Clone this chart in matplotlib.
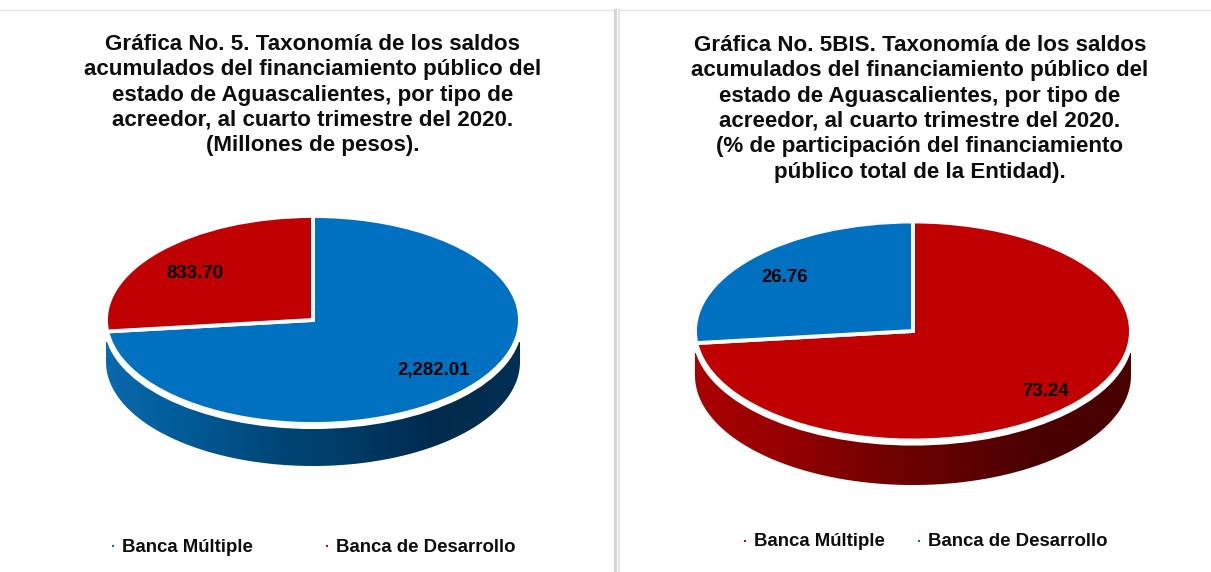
import numpy as np
import matplotlib
matplotlib.use('Agg')
import matplotlib.pyplot as plt
from matplotlib.colors import LinearSegmentedColormap
from matplotlib.lines import Line2D
from matplotlib.patches import Ellipse, Polygon

W, H = 1211, 572

categories = ['Banca Múltiple', 'Banca de Desarrollo']
saldos = [2282.01, 833.70]
participacion = [73.24, 26.76]

titulo_1 = ('Gráfica No. 5. Taxonomía de los saldos\n'
            'acumulados del financiamiento público del\n'
            'estado de Aguascalientes, por tipo de\n'
            'acreedor, al cuarto trimestre del 2020.\n'
            '(Millones de pesos).')
titulo_2 = ('Gráfica No. 5BIS. Taxonomía de los saldos\n'
            'acumulados del financiamiento público del\n'
            'estado de Aguascalientes, por tipo de\n'
            'acreedor, al cuarto trimestre del 2020.\n'
            '(% de participación del financiamiento\n'
            'público total de la Entidad).')

AZUL = '#0070C0'
ROJO = '#C00000'
grad_azul = ['#0A69AC', '#005A96', '#004778', '#003A65', '#002A4C', '#002F52']
grad_rojo = ['#A80000', '#960000', '#760000', '#600000', '#480000', '#480000']

plt.rcParams['font.family'] = ['Liberation Sans', 'DejaVu Sans']
plt.rcParams['font.weight'] = 'bold'

fig = plt.figure(figsize=(W / 100, H / 100), dpi=100, facecolor='white')


def fx(x):
    return x / W


def fy(y):
    return 1 - y / H


def pastel(cx, cy, rx, ry, fondo, valores, colores, grad):
    # axes covers the ellipse plus room for the side wall, units = pie radius
    margen = 0.02
    prof = (fondo - cy) / ry - 1
    ax = fig.add_axes([fx(cx - rx * (1 + margen)), fy(cy + ry * (1 + prof + margen)),
                       2 * rx * (1 + margen) / W, ry * (2 + prof + 2 * margen) / H])
    # side wall with horizontal gradient
    t = np.linspace(np.pi, 2 * np.pi, 200)
    borde = np.column_stack([np.cos(t), np.sin(t) - prof])
    tope = -22 / ry
    pts = np.vstack([[-1, tope], borde, [1, tope]])
    cmap = LinearSegmentedColormap.from_list('g', grad)
    img = ax.imshow(np.linspace(0, 1, 300).reshape(1, -1), cmap=cmap, aspect='auto',
                    extent=(-1, 1, -1 - prof, 0), zorder=1)
    clip = Polygon(pts, transform=ax.transData, facecolor='none', edgecolor='none')
    ax.add_patch(clip)
    img.set_clip_path(clip)
    # white rim
    ax.add_patch(Ellipse((0, -4 / ry), 2.02, 2.02, facecolor='white', edgecolor='none', zorder=2))
    ax.pie(valores, colors=colores, startangle=90, counterclock=False, radius=1,
           wedgeprops={'edgecolor': 'white', 'linewidth': 2.8, 'zorder': 3})
    ax.set_aspect('auto')
    ax.set_xlim(-1 - margen, 1 + margen)
    ax.set_ylim(-1 - prof - margen, 1 + margen)
    ax.axis('off')


pastel(313, 320, 207, 104, 466, saldos, [AZUL, ROJO], grad_azul)
pastel(913, 331, 218, 109.5, 485, participacion, [ROJO, AZUL], grad_rojo)

# panel borders
fig.add_artist(Line2D([fx(0), fx(614)], [fy(10), fy(10)], color='#e2e2e2', lw=0.9))
fig.add_artist(Line2D([fx(614.5), fx(614.5)], [fy(10), fy(572)], color='#d4d4d4', lw=2.2))
fig.add_artist(Line2D([fx(618.5), fx(1211)], [fy(10), fy(10)], color='#e2e2e2', lw=0.9))
fig.add_artist(Line2D([fx(618.5), fx(618.5)], [fy(10), fy(572)], color='#e2e2e2', lw=1.4))

# titles
fig.text(fx(312.5), fy(34), titulo_1, ha='center', va='top', fontsize=16.1,
         fontweight='bold', linespacing=1.27, color='#0d0d0d')
fig.text(fx(920), fy(35), titulo_2, ha='center', va='top', fontsize=16.1,
         fontweight='bold', linespacing=1.27, color='#0d0d0d')

# value labels
fs = 13.4
fig.text(fx(433.5), fy(371), f'{saldos[0]:,.2f}', ha='center', va='center', fontsize=fs, color='black')
fig.text(fx(194.5), fy(273), f'{saldos[1]:,.2f}', ha='center', va='center', fontsize=fs, color='black')
fig.text(fx(1045.5), fy(391), f'{participacion[0]:.2f}', ha='center', va='center', fontsize=fs, color='black')
fig.text(fx(784.5), fy(277), f'{participacion[1]:.2f}', ha='center', va='center', fontsize=fs, color='black')

# legends
for x, y, cat, col in [(122, 547, categories[0], AZUL), (336, 547, categories[1], ROJO),
                       (754, 542, categories[0], ROJO), (928, 542, categories[1], AZUL)]:
    fig.text(fx(x), fy(y), cat, ha='left', va='center', fontsize=13.4, color='#0d0d0d')
    fig.add_artist(Line2D([fx(x - 9)], [fy(y - 1)], marker='s', ms=1.8, color=col, mew=0))

fig.savefig('out.png', dpi=100)
